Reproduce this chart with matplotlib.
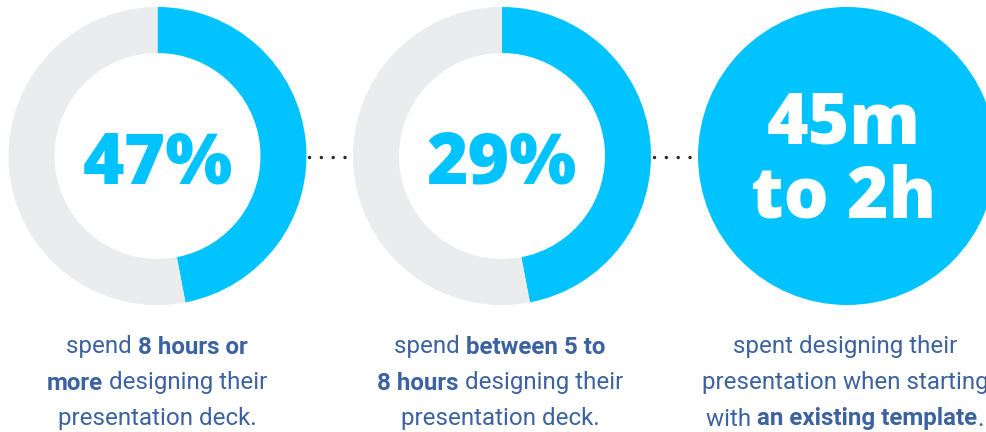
import matplotlib
matplotlib.use('Agg')
import matplotlib.pyplot as plt

# arc share drawn in each ring, and the big labels
ring_shares = [0.47, 0.47]
ring_labels = ['47%', '29%']
third_label = '45m\nto 2h'

# captions: list of lines, each line a list of (text, bold)
captions = [
    [[('spend ', False), ('8 hours or', True)],
     [('more', True), (' designing their', False)],
     [('presentation deck.', False)]],
    [[('spend ', False), ('between 5 to', True)],
     [('8 hours', True), (' designing their', False)],
     [('presentation deck.', False)]],
    [[('spent designing their', False)],
     [('presentation when starting', False)],
     [('with ', False), ('an existing template', True), ('.', False)]],
]

BLUE = '#00c3ff'
GREY = '#ebecee'
TEXT = '#3d62a0'
W, H = 986, 432
BIG = dict(fontsize=51, fontfamily='Open Sans', fontweight=800)

fig = plt.figure(figsize=(W / 100, H / 100), dpi=100)
ax = fig.add_axes([0, 0, 1, 1])

centers_x = [157.5, 502, 847]
cy = H - 156
r_out, r_in = 149, 103

for cx, share, label in zip(centers_x[:2], ring_shares, ring_labels):
    ax.pie([share, 1 - share], colors=[BLUE, GREY], center=(cx, cy),
           radius=r_out, startangle=90, counterclock=False,
           wedgeprops=dict(width=r_out - r_in, linewidth=0), frame=True)
    ax.text(cx, cy - 9, label, ha='center', va='center', color=BLUE, **BIG)

ax.add_patch(plt.Circle((centers_x[2], cy), r_out, color=BLUE, lw=0))
ax.text(centers_x[2] - 3, cy - 6, third_label, ha='center', va='center',
        color='white', linespacing=1.06, **BIG)
ax.set_xlim(0, W)
ax.set_ylim(0, H)
ax.set_aspect('equal')
ax.axis('off')

# dotted connectors
for x0, x1 in [(309, 351), (654, 696)]:
    ax.plot([x0, x1], [H - 157, H - 157], ls=(0, (0.01, 3.4)), lw=2.5,
            color='#2b2b2b', dash_capstyle='round')

# captions with mixed weights
fig.canvas.draw()
renderer = fig.canvas.get_renderer()
line_y = [347, 383, 419]
for cx, lines in zip([157, 500, 845], captions):
    for y, segs in zip(line_y, lines):
        texts = []
        for s, b in segs:
            t = ax.text(0, H - y, s, ha='left', va='center', color=TEXT,
                        fontsize=17.4, fontfamily='Roboto',
                        fontweight='bold' if b else 'normal')
            texts.append(t)
        widths = [t.get_window_extent(renderer).width for t in texts]
        x = cx - sum(widths) / 2
        for t, w in zip(texts, widths):
            t.set_x(x)
            x += w

fig.savefig('out.png', dpi=100)
